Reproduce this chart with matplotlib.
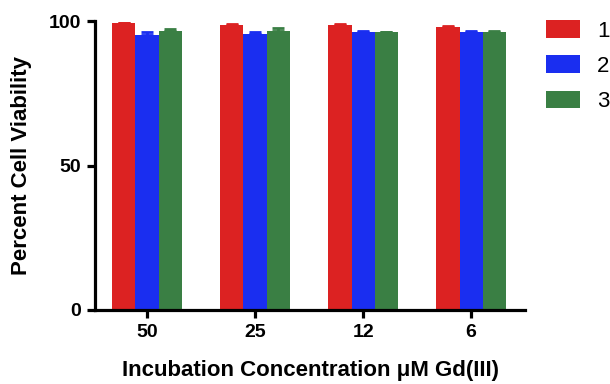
import numpy as np
import matplotlib
matplotlib.use("Agg")
import matplotlib.pyplot as plt

plt.rcParams['font.family'] = ['Liberation Sans', 'DejaVu Sans']

concentrations = ["50", "25", "12", "6"]
series_names = ["1", "2", "3"]
viability_1 = [99.2, 98.8, 98.5, 97.9]
viability_2 = [95.2, 95.4, 96.2, 96.3]
viability_3 = [96.7, 96.5, 96.2, 96.3]
error_1 = [0.3, 0.3, 0.4, 0.4]
error_2 = [1.0, 1.0, 0.3, 0.2]
error_3 = [0.5, 1.0, 0.2, 0.4]

colors = ["#dc2222", "#1a2ef0", "#3a7f44"]


def main():
    fig = plt.figure(figsize=(6.1, 3.84), dpi=100)
    ax = fig.add_axes([0.156, 0.193, 0.705, 0.752])

    x = np.arange(len(concentrations))
    width = 0.215
    values = [viability_1, viability_2, viability_3]
    errors = [error_1, error_2, error_3]

    handles = []
    for i, (vals, errs) in enumerate(zip(values, errors)):
        pos = x + (i - 1) * width
        bars = ax.bar(pos, vals, width, color=colors[i], label=series_names[i], zorder=2)
        handles.append(bars)
        # upper error bar only, same colour as the bar
        ax.errorbar(pos, vals, yerr=[np.zeros(len(errs)), errs], fmt='none',
                    ecolor=colors[i], elinewidth=2, capsize=4, capthick=2, zorder=1)

    ax.set_xlim(-0.48, 3.5)
    ax.set_ylim(0, 100)
    ax.set_yticks([0, 50, 100])
    ax.set_xticks(x)
    ax.set_xticklabels(concentrations)

    for side in ['top', 'right']:
        ax.spines[side].set_visible(False)
    for side in ['left', 'bottom']:
        ax.spines[side].set_linewidth(2.3)
    ax.tick_params(width=2.3, length=6, labelsize=14, pad=4)
    for lab in ax.get_xticklabels() + ax.get_yticklabels():
        lab.set_fontweight('bold')

    ax.set_ylabel("Percent Cell Viability", fontsize=16, fontweight='bold', labelpad=12)
    ax.set_xlabel("Incubation Concentration \u03bcM Gd(III)", fontsize=16,
                  fontweight='bold', labelpad=14)

    fig.legend(handles, series_names, loc='upper left', bbox_to_anchor=(0.895, 0.948),
               frameon=False, fontsize=16, handlelength=1.55, handleheight=0.85,
               labelspacing=0.62, handletextpad=0.75, borderpad=0, borderaxespad=0)

    fig.savefig("out.png", dpi=100)


if __name__ == "__main__":
    main()
